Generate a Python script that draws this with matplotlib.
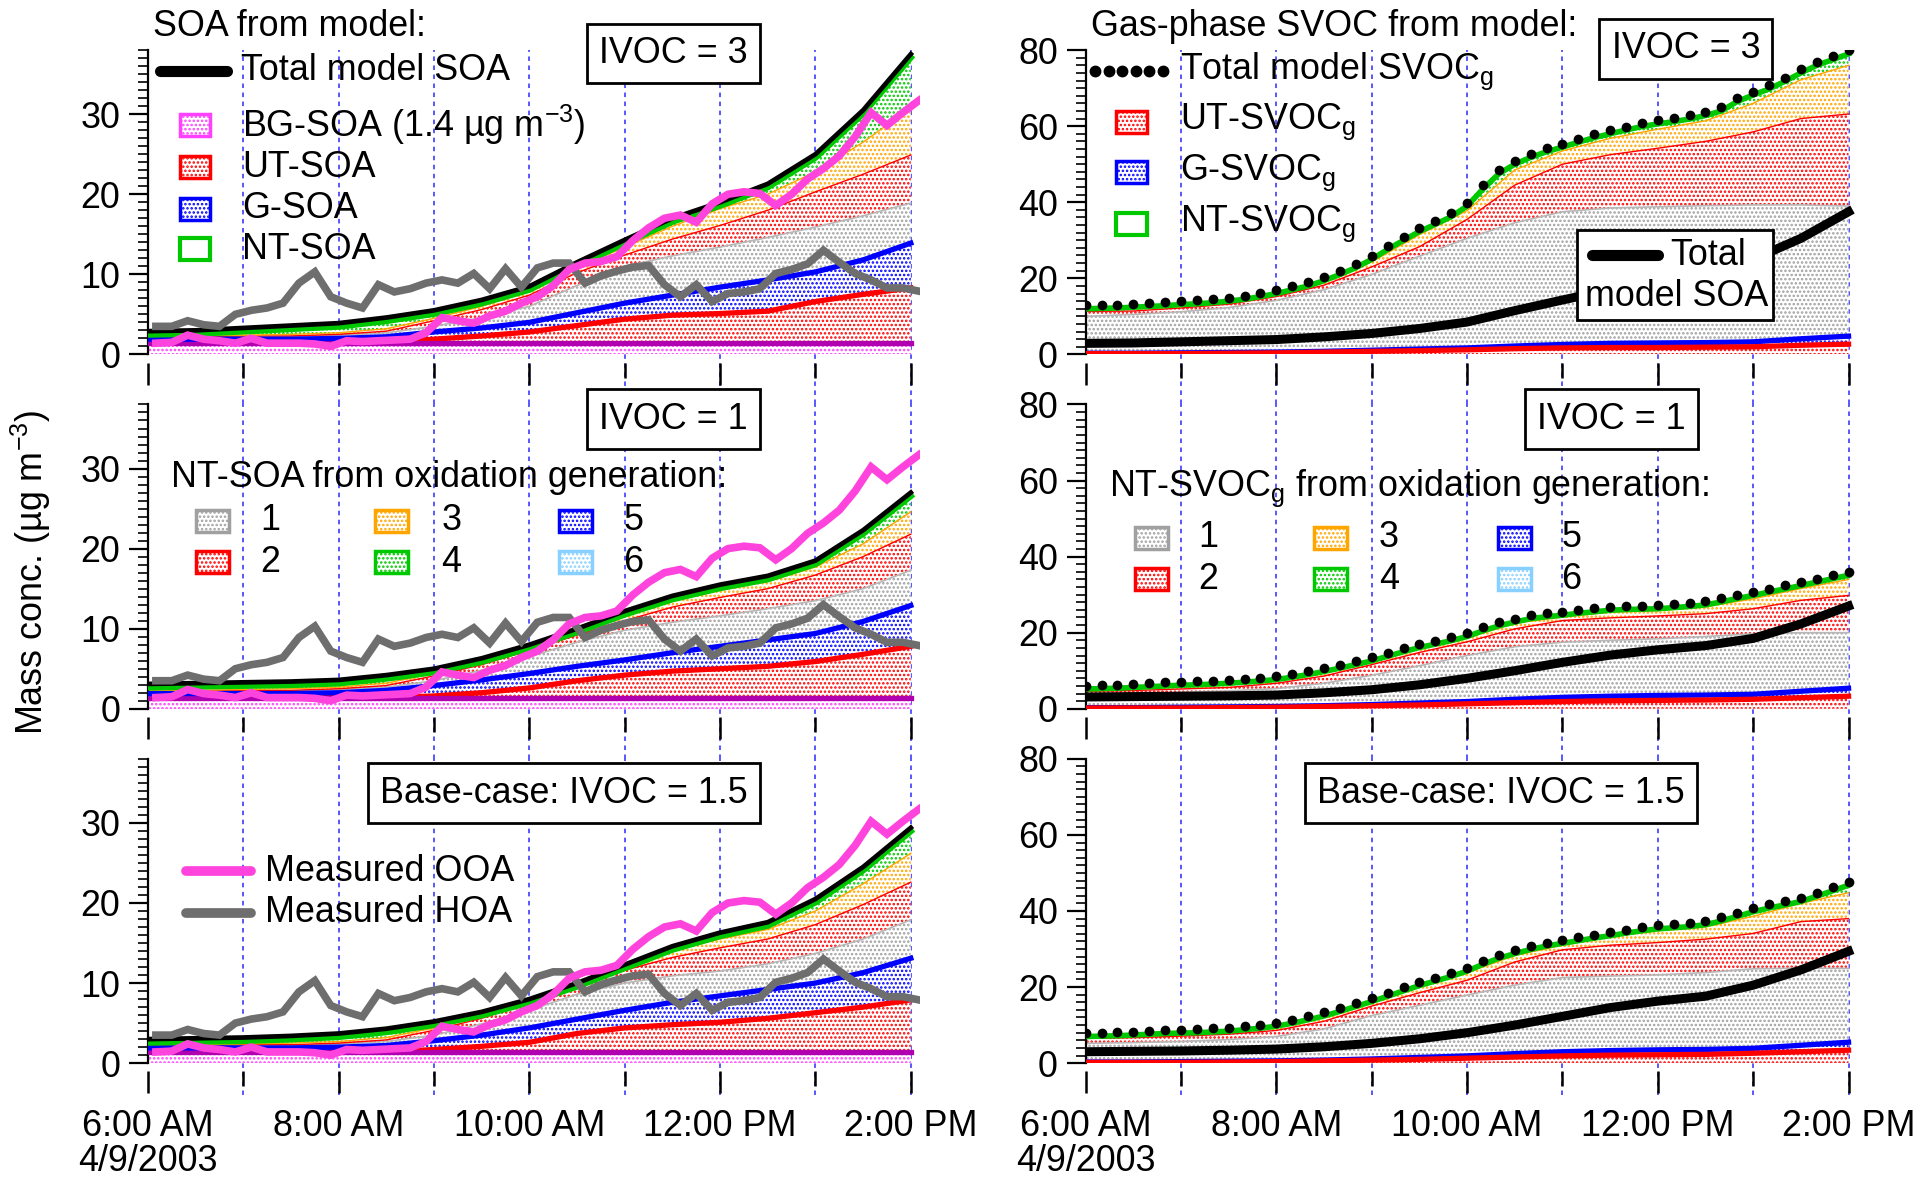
import numpy as np
import matplotlib
matplotlib.use("Agg")
import matplotlib.pyplot as plt
from matplotlib.patches import Rectangle
from matplotlib.lines import Line2D
import matplotlib.transforms as mtransforms

plt.rcParams['font.family'] = ['Liberation Sans', 'DejaVu Sans']
plt.rcParams['mathtext.fontset'] = 'custom'
plt.rcParams['mathtext.rm'] = 'Liberation Sans'
plt.rcParams['mathtext.it'] = 'Liberation Sans:italic'
plt.rcParams['mathtext.bf'] = 'Liberation Sans:bold'
plt.rcParams['hatch.linewidth'] = 1.2

# ---------------------------------------------------------------- data
# time axes in decimal hours of 4/9/2003
t_model = 6 + np.arange(17) * 0.5          # model layers, 30-min output 6:00-14:00
t_fine = 6 + np.arange(49) / 6.0           # total gas-phase SVOC, 10-min output
t_meas = 6 + 5 / 60 + np.arange(49) / 6.0  # AMS factors, 10-min averages 6:05-14:05

bg_soa = 1.4  # background SOA, ug m-3

ooa = [1.4, 1.5, 2.4, 1.9, 1.7, 1.4, 2.0, 1.4, 1.4, 1.4, 1.3, 1.0,
       1.7, 1.6, 1.7, 1.8, 1.9, 2.7, 4.6, 4.2, 3.9, 4.8, 5.4, 6.4,
       7.2, 8.6, 10.6, 11.4, 11.6, 12.2, 14.2, 15.8, 17.0, 17.4, 16.5, 18.8,
       20.0, 20.3, 20.1, 18.6, 20.0, 21.9, 23.2, 24.8, 27.2, 30.2, 28.6, 30.2,
       31.7]
hoa = [3.5, 3.5, 4.2, 3.7, 3.5, 5.0, 5.5, 5.8, 6.4, 8.9, 10.3, 7.2,
       6.4, 5.8, 8.7, 7.8, 8.2, 8.9, 9.3, 8.9, 10.1, 8.2, 10.7, 8.4,
       10.8, 11.4, 11.4, 8.9, 9.8, 10.4, 10.9, 11.1, 8.7, 7.2, 8.7, 6.6,
       7.6, 7.8, 8.2, 10.1, 10.6, 11.3, 13.0, 11.5, 10.1, 9.3, 8.3, 8.3,
       7.9]

# particle-phase SOA, cumulative tops of each stacked layer
soa3_ut = [1.4, 1.4, 1.4, 1.4, 1.4, 1.5, 1.9, 2.3, 2.8, 3.6, 4.4, 4.9, 5.1, 5.4, 6.6, 7.5, 8.3]
soa3_g = [1.9, 1.9, 1.9, 1.9, 2.0, 2.2, 2.8, 3.3, 4.0, 5.2, 6.4, 7.4, 8.4, 9.3, 10.3, 11.8, 13.9]
soa3_nt1 = [2.1, 2.1, 2.2, 2.2, 2.4, 2.7, 3.5, 4.6, 6.0, 8.6, 11.0, 12.3, 13.4, 14.6, 15.9, 17.3, 18.9]
soa3_nt2 = [2.2, 2.2, 2.3, 2.3, 2.5, 2.9, 4.2, 5.6, 7.4, 10.2, 12.4, 14.4, 16.1, 18.0, 20.3, 22.5, 24.9]
soa3_nt3 = [2.3, 2.3, 2.4, 2.5, 2.7, 3.2, 4.5, 6.0, 7.9, 10.8, 13.4, 16.0, 18.2, 20.0, 22.8, 26.5, 30.8]
soa3_total = [2.9, 3.0, 3.3, 3.6, 3.9, 4.6, 5.5, 6.8, 8.5, 11.5, 14.3, 17.0, 19.0, 21.3, 25.0, 30.5, 37.5]

soa1_ut = [1.4, 1.4, 1.4, 1.4, 1.4, 1.4, 1.6, 2.0, 2.6, 3.5, 4.2, 4.7, 5.0, 5.3, 5.9, 6.8, 7.8]
soa1_g = [1.9, 1.9, 1.9, 1.9, 2.0, 2.3, 2.9, 3.6, 4.4, 5.3, 6.1, 7.0, 7.8, 8.6, 9.4, 10.9, 12.9]
soa1_nt1 = [2.1, 2.1, 2.2, 2.2, 2.4, 2.7, 3.5, 4.8, 6.5, 8.3, 9.8, 10.8, 11.6, 12.5, 13.5, 15.0, 17.3]
soa1_nt2 = [2.2, 2.2, 2.3, 2.3, 2.5, 2.9, 4.1, 5.5, 7.3, 9.2, 11.0, 12.7, 13.9, 15.0, 16.7, 19.0, 21.8]
soa1_nt3 = [2.3, 2.3, 2.4, 2.5, 2.7, 3.2, 4.4, 5.8, 7.7, 9.6, 11.6, 13.5, 14.8, 15.9, 17.7, 20.6, 24.6]
soa1_total = [3.1, 3.2, 3.3, 3.4, 3.6, 4.2, 5.0, 6.3, 8.0, 10.0, 12.2, 14.1, 15.5, 16.6, 18.5, 22.3, 27.0]

soa15_ut = [1.4, 1.4, 1.4, 1.4, 1.4, 1.4, 1.7, 2.1, 2.6, 3.7, 4.4, 4.8, 5.1, 5.6, 6.3, 7.0, 7.9]
soa15_g = [1.9, 1.9, 1.9, 1.9, 2.0, 2.2, 2.8, 3.5, 4.4, 5.5, 6.6, 7.6, 8.4, 9.2, 10.0, 11.3, 13.1]
soa15_nt1 = [2.1, 2.1, 2.2, 2.2, 2.4, 2.7, 3.5, 4.9, 6.6, 8.6, 10.0, 10.9, 11.5, 12.4, 13.7, 15.5, 17.9]
soa15_nt2 = [2.2, 2.2, 2.3, 2.3, 2.5, 2.9, 4.1, 5.6, 7.5, 9.5, 11.6, 13.2, 14.4, 15.5, 17.3, 19.8, 22.6]
soa15_nt3 = [2.3, 2.3, 2.4, 2.5, 2.7, 3.2, 4.4, 5.9, 7.8, 9.8, 12.0, 14.1, 15.5, 16.7, 19.0, 22.4, 26.2]
soa15_total = [3.0, 3.1, 3.2, 3.4, 3.7, 4.3, 5.2, 6.4, 8.0, 10.0, 12.3, 14.6, 16.3, 17.6, 20.5, 24.5, 29.4]

# gas-phase SVOC, cumulative tops of each stacked layer
svoc3_ut = [0.2, 0.2, 0.2, 0.3, 0.4, 0.6, 0.8, 1.0, 1.2, 1.5, 1.7, 1.8, 1.8, 1.9, 2.0, 2.4, 2.7]
svoc3_g = [0.3, 0.3, 0.4, 0.5, 0.6, 0.8, 1.1, 1.4, 1.7, 2.2, 2.6, 2.9, 3.0, 3.1, 3.3, 4.1, 4.8]
svoc3_nt1 = [10.0, 10.5, 11.2, 12.3, 14.2, 17.0, 21.0, 25.8, 30.5, 34.6, 37.5, 38.5, 38.8, 39.1, 39.3, 39.3, 39.0]
svoc3_nt2 = [11.3, 11.4, 12.2, 13.2, 15.2, 18.2, 23.0, 28.3, 35.5, 44.5, 50.0, 52.5, 54.2, 56.0, 58.5, 62.0, 63.2]
svoc3_nt3 = [11.8, 11.9, 12.6, 13.6, 15.6, 18.9, 24.3, 31.5, 37.8, 48.5, 53.5, 56.8, 59.2, 61.4, 66.0, 72.2, 76.0]
svoc3_total = [12.0, 12.1, 12.2, 12.4, 12.6, 12.8, 13.1, 13.3, 13.6, 14.0, 14.5, 15.2,
               16.0, 17.0, 18.0, 19.4, 21.0, 22.8, 25.0, 27.6, 30.0, 32.3, 34.2, 36.2,
               39.0, 43.5, 47.5, 50.0, 51.8, 53.3, 54.5, 55.8, 57.0, 58.0, 59.0, 59.9,
               60.6, 61.2, 61.9, 62.8, 64.0, 66.5, 68.2, 69.8, 71.8, 74.0, 76.0, 77.5,
               79.0]

svoc1_ut = [0.2, 0.2, 0.2, 0.3, 0.4, 0.6, 0.8, 1.0, 1.3, 1.6, 1.9, 2.1, 2.2, 2.3, 2.5, 2.9, 3.3]
svoc1_g = [0.3, 0.3, 0.4, 0.5, 0.6, 0.8, 1.1, 1.5, 1.9, 2.5, 3.0, 3.3, 3.5, 3.6, 3.8, 4.6, 5.4]
svoc1_nt1 = [3.5, 3.8, 4.3, 4.7, 5.3, 6.7, 8.8, 11.3, 14.0, 16.3, 17.5, 18.0, 18.4, 19.0, 19.7, 20.0, 20.0]
svoc1_nt2 = [4.6, 4.8, 5.2, 5.6, 6.7, 8.6, 11.6, 14.8, 17.6, 21.0, 23.2, 23.9, 24.4, 25.0, 26.3, 28.5, 29.8]
svoc1_nt3 = [4.9, 5.2, 5.8, 6.3, 7.3, 9.4, 12.2, 15.8, 18.6, 22.5, 24.1, 25.4, 25.8, 26.8, 28.9, 31.6, 34.0]
svoc1_total = [5.2, 5.3, 5.4, 5.6, 5.8, 6.0, 6.2, 6.3, 6.5, 6.7, 7.0, 7.3,
               7.7, 8.3, 9.0, 9.8, 10.7, 11.6, 12.6, 13.8, 15.0, 16.1, 17.0, 17.9,
               19.0, 20.5, 21.8, 22.8, 23.7, 24.2, 24.6, 25.1, 25.5, 25.9, 26.1, 26.2,
               26.3, 26.6, 26.9, 27.3, 28.1, 29.0, 29.8, 30.7, 31.5, 32.4, 33.3, 34.2,
               35.1]

svoc15_ut = [0.2, 0.2, 0.2, 0.3, 0.4, 0.6, 0.8, 1.0, 1.3, 1.6, 1.9, 2.1, 2.2, 2.3, 2.6, 3.0, 3.4]
svoc15_g = [0.3, 0.3, 0.4, 0.5, 0.6, 0.8, 1.1, 1.5, 1.9, 2.5, 3.0, 3.3, 3.5, 3.6, 3.9, 4.7, 5.5]
svoc15_nt1 = [5.2, 5.4, 5.7, 6.2, 7.0, 9.0, 12.5, 15.2, 17.9, 20.5, 22.5, 22.9, 23.2, 23.8, 24.8, 25.0, 24.9]
svoc15_nt2 = [6.5, 6.7, 7.1, 7.6, 8.6, 11.0, 15.0, 18.5, 21.8, 26.6, 29.8, 31.0, 31.7, 32.6, 34.1, 37.2, 38.0]
svoc15_nt3 = [6.8, 7.0, 7.5, 8.1, 9.3, 12.1, 15.9, 20.2, 23.8, 28.3, 31.0, 33.3, 34.8, 35.8, 38.6, 42.0, 44.8]
svoc15_total = [7.0, 7.1, 7.2, 7.4, 7.6, 7.8, 7.9, 8.0, 8.2, 8.4, 8.8, 9.2,
                9.7, 10.5, 11.4, 12.4, 13.6, 14.9, 16.2, 17.6, 19.0, 20.4, 21.6, 22.8,
                24.2, 26.0, 27.6, 28.8, 29.9, 30.8, 31.5, 32.2, 32.9, 33.5, 34.2, 34.8,
                35.3, 35.6, 35.9, 36.4, 37.4, 38.6, 39.8, 40.8, 41.6, 42.5, 43.9, 45.3,
                46.8]

hour_ticks = [6, 8, 10, 12, 14]
hour_labels = ['6:00 AM\n4/9/2003', '8:00 AM', '10:00 AM', '12:00 PM', '2:00 PM']
case_labels = ['IVOC = 3', 'IVOC = 1', 'Base-case: IVOC = 1.5']

# ---------------------------------------------------------------- styles
RED = '#ff0000'
BLUE = '#0000ff'
GRAY = '#a0a0a0'
ORANGE = '#ffa500'
GREEN = '#00c800'
LTBLUE = '#88d0ff'
PINK = '#ff40ff'
PURPLE = '#b000b0'
OOA_C = '#ff44dd'
HOA_C = '#6e6e6e'
GRID_C = '#4a4aff'
FS = 25.8

fig = plt.figure(figsize=(19.17, 11.78), dpi=100)
fig.patch.set_facecolor('white')

GW, GH = 1568.0, 964.0  # layout grid units


def P(x, y):
    return (x / GW, 1.0 - y / GH)


def hatched(ax, x1, y1, x2, y2, color, z=1):
    xs = np.concatenate([np.asarray(x1), np.asarray(x2)[::-1]])
    ys = np.concatenate([np.asarray(y1, float), np.asarray(y2, float)[::-1]])
    ax.fill(xs, ys, facecolor='white', edgecolor=color, hatch='....',
            linewidth=0, zorder=z)


def make_axes(col, row, ymax, major, minor):
    left = (121 if col == 0 else 888) / GW
    bottom = [1 - 290 / GH, 1 - 580 / GH, 1 - 870 / GH][row]
    ax = fig.add_axes([left, bottom, 631.8 / GW, 249 / GH])
    ax.set_facecolor('none')
    ax.set_xlim(6, 14.1)
    ax.set_ylim(0, ymax)
    for s in ('top', 'right'):
        ax.spines[s].set_visible(False)
    ax.spines['bottom'].set_position(('outward', 6))
    ax.spines['bottom'].set_visible(False)
    ax.spines['left'].set_linewidth(1.6)
    ax.set_xticks(hour_ticks)
    ax.set_xticks([7, 9, 11, 13], minor=True)
    ax.tick_params(axis='x', which='major', length=16, width=1.8,
                   direction='out', pad=11, labelsize=FS)
    ax.tick_params(axis='x', which='minor', length=11, width=1.8, direction='out')
    if row == 2:
        ax.set_xticklabels(hour_labels, linespacing=1.0)
    else:
        ax.tick_params(axis='x', labelbottom=False)
    ax.set_yticks(np.arange(0, ymax + 0.01, major))
    ax.set_yticks(np.arange(0, ymax + 0.01, minor), minor=True)
    ax.tick_params(axis='y', which='major', length=14, width=1.6, pad=6, labelsize=FS)
    ax.tick_params(axis='y', which='minor', length=7, width=1.2)
    ext = 41 / 249 if row < 2 else 26 / 249
    for h in range(7, 15):
        ax.axvline(h, ymin=-ext, ymax=1, color=GRID_C, lw=1.3,
                   ls=(0, (2.5, 2.5)), zorder=0.5, clip_on=False)
    return ax


def draw_soa(ax, ut, g, nt1, nt2, nt3, total):
    bg = np.full(len(t_model), bg_soa)
    zero = np.zeros(len(t_model))
    hatched(ax, t_model, zero, t_model, bg, PINK)
    hatched(ax, t_model, bg, t_model, ut, RED)
    hatched(ax, t_model, ut, t_model, g, BLUE)
    hatched(ax, t_model, g, t_model, nt1, GRAY)
    hatched(ax, t_model, nt1, t_model, nt2, RED)
    hatched(ax, t_model, nt2, t_model, nt3, ORANGE)
    hatched(ax, t_model, nt3, t_model, total, GREEN)
    ax.plot(t_model, nt1, color='#b8b8b8', lw=1.2, zorder=2)
    ax.plot(t_model, nt2, color=RED, lw=1.0, zorder=2)
    ax.plot(t_model, nt3, color=ORANGE, lw=1.0, zorder=2)
    ax.plot(t_model, ut, color=RED, lw=3.8, zorder=3)
    ax.plot(t_model, bg, color=PURPLE, lw=3.8, zorder=3)
    ax.plot(t_model, g, color=BLUE, lw=3.8, zorder=3)
    down = mtransforms.offset_copy(ax.transData, fig=fig, x=0, y=-2.5, units='points')
    ax.plot(t_model, total, color=GREEN, lw=4.5, zorder=4, transform=down)
    ax.plot(t_model, total, color='black', lw=3.4, zorder=4.5)
    ax.plot(t_meas, hoa, color=HOA_C, lw=5.5, zorder=5, solid_joinstyle='miter')
    ax.plot(t_meas, ooa, color=OOA_C, lw=5.5, zorder=5.5, solid_joinstyle='miter')


def draw_svoc(ax, ut, g, nt1, nt2, nt3, total, soa_total):
    zero = np.zeros(len(t_model))
    hatched(ax, t_model, zero, t_model, ut, RED)
    hatched(ax, t_model, ut, t_model, g, BLUE)
    hatched(ax, t_model, g, t_model, nt1, GRAY)
    hatched(ax, t_model, nt1, t_model, nt2, RED)
    hatched(ax, t_model, nt2, t_model, nt3, ORANGE)
    hatched(ax, t_model, nt3, t_fine, total, GREEN)
    ax.plot(t_model, nt1, color='#b8b8b8', lw=1.2, zorder=2)
    ax.plot(t_model, nt2, color=RED, lw=1.0, zorder=2)
    ax.plot(t_model, nt3, color=ORANGE, lw=1.0, zorder=2)
    ax.plot(t_model, g, color=BLUE, lw=3.8, zorder=3)
    ax.plot(t_model, ut, color=RED, lw=3.8, zorder=3)
    ax.plot(t_model, soa_total, color='black', lw=6.5, zorder=3.5)
    ax.plot(t_fine, total, color=GREEN, lw=4.0, zorder=4)
    up = mtransforms.offset_copy(ax.transData, fig=fig, x=0, y=2.5, units='points')
    ax.plot(t_fine, total, 'o', color='black', ms=7, zorder=4.5, transform=up,
            markeredgewidth=0)


soa_cases = [
    (soa3_ut, soa3_g, soa3_nt1, soa3_nt2, soa3_nt3, soa3_total),
    (soa1_ut, soa1_g, soa1_nt1, soa1_nt2, soa1_nt3, soa1_total),
    (soa15_ut, soa15_g, soa15_nt1, soa15_nt2, soa15_nt3, soa15_total),
]
svoc_cases = [
    (svoc3_ut, svoc3_g, svoc3_nt1, svoc3_nt2, svoc3_nt3, svoc3_total),
    (svoc1_ut, svoc1_g, svoc1_nt1, svoc1_nt2, svoc1_nt3, svoc1_total),
    (svoc15_ut, svoc15_g, svoc15_nt1, svoc15_nt2, svoc15_nt3, svoc15_total),
]

for row in range(3):
    axl = make_axes(0, row, 38, 10, 1)
    draw_soa(axl, *soa_cases[row])
    axr = make_axes(1, row, 80, 20, 2)
    draw_svoc(axr, *svoc_cases[row], soa_cases[row][5])

# ---------------------------------------------------------------- annotations


def label(x, y, s, ha='left', size=FS, z=3):
    fig.text(*P(x, y), s, ha=ha, va='center', fontsize=size, zorder=z)


def swatch(x, y, w, h, color, hatch=True, lw=2.5):
    x0, y0 = P(x, y + h / 2)
    fig.add_artist(Rectangle((x0, y0), w / GW, h / GH, transform=fig.transFigure,
                             facecolor='white', edgecolor=color,
                             hatch='....' if hatch else None, lw=lw, zorder=2))


def legend_line(x0, x1, y, color, lw=7, z=2):
    (a, b), (c, _) = P(x0, y), P(x1, y)
    fig.add_artist(Line2D([a, c], [b, b], transform=fig.transFigure, color=color,
                          lw=lw, solid_capstyle='round', zorder=z))


def boxed(cx, cy, s):
    fig.text(*P(cx, cy), s, ha='center', va='center', fontsize=FS, zorder=4,
             bbox=dict(boxstyle='square,pad=0.34', fc='white', ec='black', lw=2))


# top-left legend
label(125, 22, 'SOA from model:')
legend_line(131, 186, 58, 'black', lw=8)
label(197, 58, 'Total model SOA')
swatch(147, 102, 25, 18, PINK)
label(198, 102, 'BG-SOA (1.4 µg m$^{-3}$)')
swatch(147, 137, 25, 18, RED)
label(198, 137, 'UT-SOA')
swatch(147, 171, 25, 18, BLUE)
label(198, 171, 'G-SOA')
swatch(147, 204, 25, 18, GREEN, hatch=False, lw=3)
label(198, 204, 'NT-SOA')

# top-right legend
label(892, 22, 'Gas-phase SVOC from model:')
dots = np.linspace(896, 951, 6)
fig.add_artist(Line2D(dots / GW, np.full(6, 1 - 58 / GH), transform=fig.transFigure,
                      ls='none', marker='o', ms=7.5, color='black', zorder=2))
label(965, 58, 'Total model SVOC$_\\mathrm{g}$')
swatch(913, 100, 25, 18, RED)
label(965, 100, 'UT-SVOC$_\\mathrm{g}$')
swatch(913, 141, 25, 18, BLUE)
label(965, 141, 'G-SVOC$_\\mathrm{g}$')
swatch(913, 183, 25, 18, GREEN, hatch=False, lw=3)
label(965, 183, 'NT-SVOC$_\\mathrm{g}$')

x0, y0 = P(1290, 262)
fig.add_artist(Rectangle((x0, y0), 160 / GW, 74 / GH, transform=fig.transFigure,
                         facecolor='white', edgecolor='black', lw=2, zorder=3))
legend_line(1302, 1356, 209, 'black', lw=8, z=4)
label(1366, 209, 'Total', z=4)
label(1371, 243, 'model SOA', ha='center', z=4)

# generation legends
gen_colors = [GRAY, RED, ORANGE, GREEN, BLUE, LTBLUE]
label(140, 391, 'NT-SOA from oxidation generation:')
label(907, 400, 'NT-SVOC$_\\mathrm{g}$ from oxidation generation:')
for sw_x, txt_x, rows in ((160, 213, (426, 460)), (928, 980, (440, 474))):
    cols = [(sw_x, txt_x), (sw_x + 147, txt_x + 148), (sw_x + 297, txt_x + 297)]
    for i in range(6):
        cx, tx = cols[i // 2]
        ry = rows[i % 2]
        swatch(cx, ry, 27, 18, gen_colors[i])
        label(tx, ry, str(i + 1))

# measured factors legend
legend_line(152, 205, 713, OOA_C, lw=7)
label(217, 713, 'Measured OOA')
legend_line(152, 205, 747, HOA_C, lw=7)
label(217, 747, 'Measured HOA')

# case boxes
boxed(551, 44, case_labels[0])
boxed(1379, 40, case_labels[0])
boxed(551, 343, case_labels[1])
boxed(1318, 343, case_labels[1])
boxed(461, 649, case_labels[2])
boxed(1228, 649, case_labels[2])

fig.text(*P(25, 468), 'Mass conc. (µg m$^{-3}$)', rotation=90, ha='center',
         va='center', fontsize=FS)

fig.savefig('out.png', dpi=100, facecolor='white')
